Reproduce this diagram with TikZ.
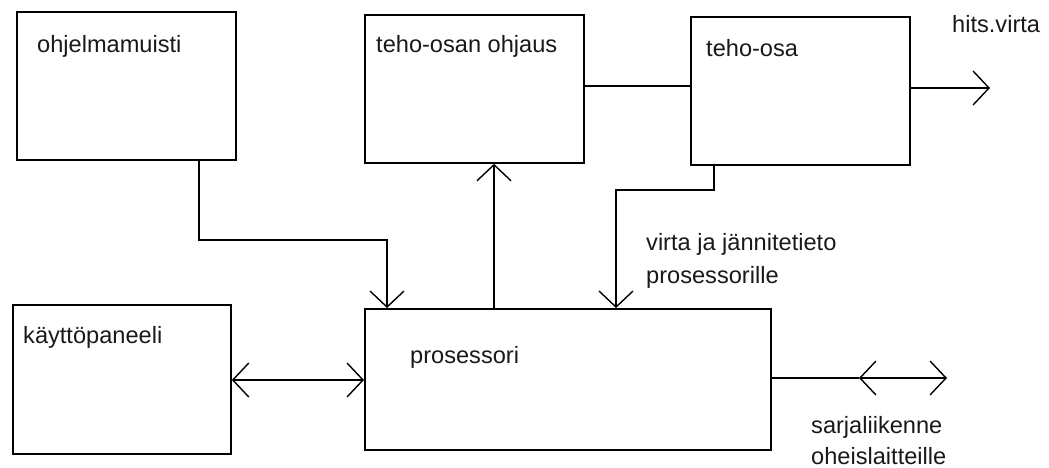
\documentclass[tikz,border=0pt]{standalone}
\usepackage{fontspec}
\setmainfont{Liberation Sans}
\usetikzlibrary{arrows.meta}
\begin{document}
\begin{tikzpicture}[x=1pt,y=-1pt,
  box/.style={draw, line width=1.8pt, rectangle, anchor=north west, inner sep=0pt},
  lbl/.style={anchor=base west, inner sep=0pt, font=\fontsize{23.6}{31}\selectfont, text=black!90},
  conn/.style={line width=1.6pt},
  tip/.tip={Straight Barb[length=16pt,width=34pt,line width=1.4pt]},
  arr/.style={conn, -tip},
  darr/.style={conn, tip-tip},
]
\useasboundingbox (0,0) rectangle (1049,468);
% boxes
\node[box, minimum width=219pt, minimum height=148pt] (om) at (16,11) {};
\node[box, minimum width=219pt, minimum height=148pt] (tso) at (364,14) {};
\node[box, minimum width=219pt, minimum height=148pt] (to) at (690,16) {};
\node[box, minimum width=218pt, minimum height=149pt] (kp) at (12,304) {};
\node[box, minimum width=406pt, minimum height=141pt] (pr) at (364,308) {};
% labels
\node[lbl] (omt) at (37,53) {ohjelmamuisti};
\node[lbl] (tsot) at (376,53) {teho-osan ohjaus};
\node[lbl] (tot) at (706,57) {teho-osa};
\node[lbl] (hvt) at (952,33) {hits.virta};
\node[lbl] (kpt) at (23,343) {käyttöpaneeli};
\node[lbl] (prt) at (410,363) {prosessori};
\node[lbl] (vj1) at (646,250) {virta ja jännitetieto};
\node[lbl] (vj2) at (646,283) {prosessorille};
\node[lbl] (sl1) at (811,433) {sarjaliikenne};
\node[lbl] (sl2) at (811,464) {oheislaitteille};
% helper coordinates
\coordinate (c1) at (199,240);
\coordinate (c2) at (387,240);
\coordinate (c3) at (494,0);
\coordinate (c4) at (0,86);
\coordinate (hv) at (990,88);
\coordinate (c5) at (714,190);
\coordinate (c6) at (616,190);
\coordinate (c7) at (0,380);
\coordinate (s1) at (859,378);
\coordinate (s2) at (947,378);
% connectors
\draw[arr] (om.south -| c1) -- (c1) -- (c2) -- (pr.north -| c2);
\draw[arr] (pr.north -| c3) -- (tso.south -| c3);
\draw[conn] (tso.east |- c4) -- (to.west |- c4);
\draw[arr] (to.east |- hv) -- (hv);
\draw[arr] (to.south -| c5) -- (c5) -- (c6) -- (pr.north -| c6);
\draw[darr] (kp.east |- c7) -- (pr.west |- c7);
\draw[conn] (pr.east |- s1) -- (s1);
\draw[darr] (s1) -- (s2);
\end{tikzpicture}
\end{document}
